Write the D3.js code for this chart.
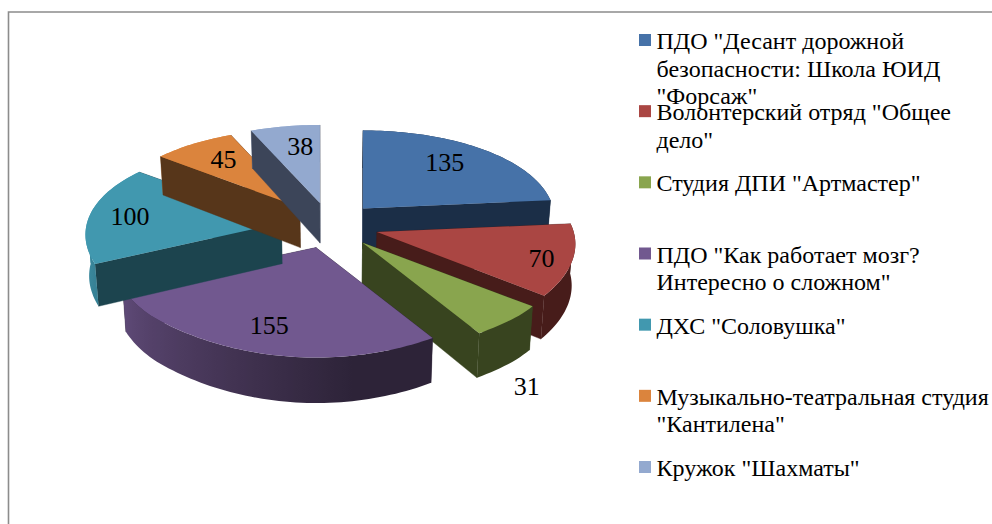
<!DOCTYPE html>
<html>
<head>
<meta charset="utf-8">
<script src="https://cdn.jsdelivr.net/npm/d3@7/dist/d3.min.js"></script>
<style>
html,body{margin:0;padding:0;background:#fff;overflow:hidden}
svg{display:block}
text{font-family:"Liberation Serif",serif;fill:#000}
</style>
</head>
<body>
<svg id="c" width="992" height="524"></svg>
<script>
// --- data ---
const categories = [
  'ПДО "Десант дорожной безопасности: Школа ЮИД "Форсаж"',
  'Волонтерский отряд "Общее дело"',
  'Студия ДПИ "Артмастер"',
  'ПДО "Как работает мозг? Интересно о сложном"',
  'ДХС "Соловушка"',
  'Музыкально-театральная студия "Кантилена"',
  'Кружок "Шахматы"'
];
const values = [135, 70, 31, 155, 100, 45, 38];
const legendLines = [
  ['ПДО "Десант дорожной', 'безопасности: Школа ЮИД', '"Форсаж"'],
  ['Волонтерский отряд "Общее', 'дело"'],
  ['Студия ДПИ "Артмастер"'],
  ['ПДО "Как работает мозг?', 'Интересно о сложном"'],
  ['ДХС "Соловушка"'],
  ['Музыкально-театральная студия', '"Кантилена"'],
  ['Кружок "Шахматы"']
];
// --- styles ---
const topColors  = ['#4672a8','#aa4643','#89a54e','#71588f','#4198af','#db843d','#93a9cf'];
const wallColors = ['#1b2e47','#471c1a','#38441f','#2d2338','#1c444e','#57361a','#3c4559'];
const labelNudge = [[3,-5],[39,9],[72,96],[-6,14],[-27,0],[-5,-5],[4,-4]];

// --- projection of the tilted, exploded pie ---
const cx = 330, cy = 225.5, A = 195, B = 91.3, KX = 0.127, KY = 0.17, EX = 49, EY = 23, EXPLODE = 0.25;
const svg = d3.select('#c');
const defs = svg.append('defs');

const pie = d3.pie().sort(null).value(d => d);
const arcs = pie(values);

function apex(mid){ return [cx + EX*Math.sin(mid), cy - EY*Math.cos(mid)]; }
function project(mid, theta, r){
  const a = apex(mid), c = Math.cos(theta);
  const depth = Math.max(r*c + EXPLODE*Math.cos(mid), -0.9);
  return [a[0] + A*r*Math.sin(theta)/(1 + KX*depth), a[1] - B*r*c/(1 + KY*r*c)];
}
function lower(p){
  return [cx + (p[0]-cx)*0.985, p[1] + 40 + (p[1]-200)*0.035];
}
const line = d3.line();
const step = Math.PI/120;
function angles(a0,a1){
  const n = Math.max(2, Math.ceil((a1-a0)/step));
  return d3.range(n+1).map(i => a0 + (a1-a0)*i/n);
}
const shade = d3.scaleLinear().domain([170,270].map(d=>d*Math.PI/180)).range([0,1]).clamp(true);
const Q1 = Math.PI/2, Q3 = 3*Math.PI/2;

function band(mid, th){
  const up = th.map(t=>project(mid,t,1));
  return line([...up, ...up.map(lower).reverse()])+'Z';
}

arcs.forEach((d,i) => {
  const mid = (d.startAngle+d.endAngle)/2;
  const a = apex(mid);
  const g = svg.append('g');
  const pS = project(mid,d.startAngle,1), pE = project(mid,d.endAngle,1);
  const col = d3.interpolateLab(wallColors[i], topColors[i]);

  // parts of the curved wall that face away go first
  [[d.startAngle, Math.min(d.endAngle,Q1)], [Math.max(d.startAngle,Q3), d.endAngle]].forEach(r=>{
    if(r[1] <= r[0]) return;
    g.append('path').attr('d',band(mid,angles(r[0],r[1]))).attr('fill',col(shade(r[0])));
  });

  // radial walls, far one first
  [[a,pS],[a,pE]].sort((u,v)=>u[1][1]-v[1][1]).forEach(w=>{
    g.append('path')
     .attr('d', line([w[0],w[1],lower(w[1]),lower(w[0])])+'Z')
     .attr('fill',wallColors[i]).attr('stroke',wallColors[i]).attr('stroke-width',0.4);
  });

  // front part of the curved wall with a horizontal gradient
  const f0 = Math.max(d.startAngle,Q1), f1 = Math.min(d.endAngle,Q3);
  if(f1 > f0){
    const th = angles(f0,f1);
    const x0 = project(mid,f0,1)[0], x1 = project(mid,f1,1)[0];
    const grad = defs.append('linearGradient').attr('id','w'+i)
      .attr('gradientUnits','userSpaceOnUse')
      .attr('x1',x0).attr('x2',x1).attr('y1',0).attr('y2',0);
    th.forEach(t=>{
      grad.append('stop')
        .attr('offset',(project(mid,t,1)[0]-x0)/(x1-x0))
        .attr('stop-color',col(shade(t)));
    });
    g.append('path').attr('d',band(mid,th)).attr('fill','url(#w'+i+')');
  }

  // top face
  g.append('path')
   .attr('d', line([a, ...angles(d.startAngle,d.endAngle).map(t=>project(mid,t,1))])+'Z')
   .attr('fill',topColors[i]);
});

// data labels
arcs.forEach((d,i)=>{
  const mid = (d.startAngle+d.endAngle)/2;
  const p = project(mid,mid,0.65);
  svg.append('text')
    .attr('x',p[0]+labelNudge[i][0]).attr('y',p[1]+labelNudge[i][1]+8.5)
    .attr('text-anchor','middle').attr('font-size',26)
    .text(d.value);
});

// legend
const legendY = d3.scaleLinear().domain([0,categories.length-1]).range([49,476]);
categories.forEach((c,i)=>{
  const y = legendY(i);
  svg.append('rect').attr('x',639).attr('y',y-15).attr('width',12).attr('height',12).attr('fill',topColors[i]);
  legendLines[i].forEach((t,j)=>{
    svg.append('text').attr('x',656.5).attr('y',y+j*27.5).attr('font-size',24).text(t);
  });
});

// frame
svg.append('path').attr('d',d3.line()([[8.5,524],[8.5,12],[992,12]]))
  .attr('fill','none').attr('stroke','#8c8c8c').attr('stroke-width',1.6);
</script>
</body>
</html>
